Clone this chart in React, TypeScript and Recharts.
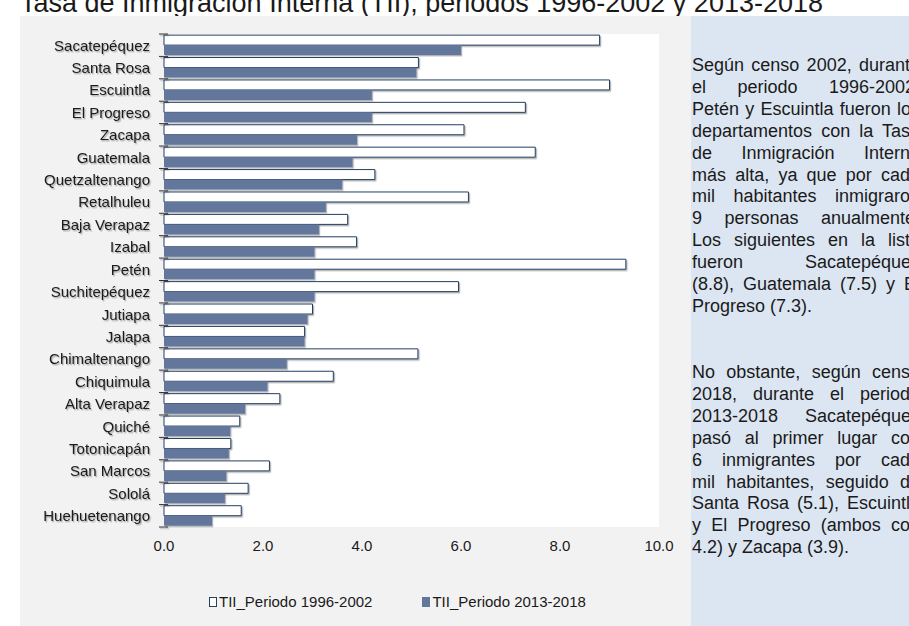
import React from "react";
import { BarChart, Bar, XAxis, YAxis, CartesianGrid } from "recharts";

const categories = [
  "Sacatepéquez",
  "Santa Rosa",
  "Escuintla",
  "El Progreso",
  "Zacapa",
  "Guatemala",
  "Quetzaltenango",
  "Retalhuleu",
  "Baja Verapaz",
  "Izabal",
  "Petén",
  "Suchitepéquez",
  "Jutiapa",
  "Jalapa",
  "Chimaltenango",
  "Chiquimula",
  "Alta Verapaz",
  "Quiché",
  "Totonicapán",
  "San Marcos",
  "Sololá",
  "Huehuetenango",
];

const periodo1996 = [
  8.8, 5.14, 9.0, 7.3, 6.06, 7.5, 4.26, 6.15, 3.71, 3.89, 9.33, 5.95, 3.0, 2.84, 5.13, 3.42, 2.34, 1.53, 1.35,
  2.13, 1.7, 1.56,
];

const periodo2013 = [
  6.0, 5.1, 4.2, 4.2, 3.9, 3.81, 3.6, 3.27, 3.13, 3.04, 3.04, 3.04, 2.9, 2.84, 2.48, 2.09, 1.64, 1.34, 1.31,
  1.26, 1.23, 0.97,
];

const xTicks = [0, 2, 4, 6, 8, 10];
const seriesNames = ["TII_Periodo 1996-2002", "TII_Periodo 2013-2018"];

const title = "Tasa de Inmigración Interna (TII), periodos 1996-2002 y 2013-2018";

const noteParagraphs = [
  [
    "Según censo 2002, durante",
    "el periodo 1996-2002,",
    "Petén y Escuintla fueron los",
    "departamentos con la Tasa",
    "de Inmigración Interna",
    "más alta, ya que por cada",
    "mil habitantes inmigraron",
    "9 personas anualmente.",
    "Los siguientes en la lista",
    "fueron Sacatepéquez",
    "(8.8), Guatemala (7.5) y El",
    "Progreso (7.3).",
  ],
  [
    "No obstante, según censo",
    "2018, durante el periodo",
    "2013-2018 Sacatepéquez",
    "pasó al primer lugar con",
    "6 inmigrantes por cada",
    "mil habitantes, seguido de",
    "Santa Rosa (5.1), Escuintla",
    "y El Progreso (ambos con",
    "4.2) y Zacapa (3.9).",
  ],
];

const FONT = "'Liberation Sans', Arial, sans-serif";
const TEXT = "#1a1a1a";
const OUTLINE = "#243f60";
const FILL_2013 = "#63769c";
const AXIS = "#333";

const CHART_W = 691;
const CHART_H = 626;
const PLOT_TOP = 34;
const PLOT_BOTTOM = 527;
const BAND = (PLOT_BOTTOM - PLOT_TOP) / categories.length;

const data = categories.map((name, i) => ({
  name,
  p1996: periodo1996[i],
  p2013: periodo2013[i],
}));

// category label plus the small marks between categories on the axis
function CategoryTick(props: any) {
  const { x, y, payload } = props;
  const axisX = x + 14;
  const last = payload.value === categories[categories.length - 1];
  return (
    <g filter="url(#softShadow)">
      <line x1={axisX - 5} x2={axisX + 4} y1={y - BAND / 2} y2={y - BAND / 2} stroke={AXIS} />
      {last && <line x1={axisX - 5} x2={axisX + 4} y1={y + BAND / 2} y2={y + BAND / 2} stroke={AXIS} />}
      <text x={x} y={y} dy="0.36em" textAnchor="end" fontSize={15} fill={TEXT}>
        {payload.value}
      </text>
    </g>
  );
}

function NoteLines({ lines, top }: { lines: string[]; top: number }) {
  return (
    <div style={{ position: "absolute", left: 692, top, width: 228, fontSize: 18, lineHeight: "21.9px", color: TEXT }}>
      {lines.map((line, i) => (
        <div
          key={i}
          style={{
            textAlign: "justify",
            textAlignLast: i === lines.length - 1 ? "left" : "justify",
            whiteSpace: "nowrap",
          }}
        >
          {line}
        </div>
      ))}
    </div>
  );
}

export default function App() {
  return (
    <div
      style={{
        position: "absolute",
        left: 0,
        top: 0,
        width: 909,
        height: 626,
        overflow: "hidden",
        background: "#fff",
        fontFamily: FONT,
      }}
    >
      <svg width={0} height={0} style={{ position: "absolute" }}>
        <defs>
          <filter id="softShadow" x="-5%" y="-20%" width="115%" height="160%">
            <feDropShadow dx={1.2} dy={1.4} stdDeviation={0.7} floodColor="#000" floodOpacity={0.3} />
          </filter>
        </defs>
      </svg>

      <div
        style={{
          position: "absolute",
          left: 20,
          top: -10,
          fontSize: 27,
          lineHeight: 1,
          color: TEXT,
          whiteSpace: "nowrap",
        }}
      >
        {title}
      </div>

      <div style={{ position: "absolute", left: 20, top: 16, width: 671, height: 610, background: "#f2f2f2" }} />
      <div style={{ position: "absolute", left: 691, top: 16, width: 218, height: 610, background: "#dce6f2" }} />

      <div style={{ position: "absolute", left: 0, top: 0 }}>
        <BarChart
          width={CHART_W}
          height={CHART_H}
          data={data}
          layout="vertical"
          margin={{ top: PLOT_TOP, right: 32, bottom: 69, left: 0 }}
          barCategoryGap="5%"
          barGap={0}
        >
          <CartesianGrid fill="#fff" stroke="none" horizontal={false} vertical={false} />
          <XAxis
            type="number"
            domain={[0, 10]}
            ticks={xTicks}
            tickFormatter={(v: number) => v.toFixed(1)}
            axisLine={false}
            tickLine={false}
            tickSize={0}
            tickMargin={13}
            height={30}
            tick={{ fontSize: 15, fill: TEXT }}
          />
          <YAxis
            type="category"
            dataKey="name"
            width={164}
            interval={0}
            tickSize={6}
            tickMargin={8}
            tickLine={false}
            axisLine={{ stroke: AXIS, filter: "url(#softShadow)" }}
            tick={<CategoryTick />}
          />
          <Bar
            dataKey="p1996"
            name={seriesNames[0]}
            fill="#fff"
            stroke={OUTLINE}
            strokeWidth={1}
            style={{ filter: "url(#softShadow)" }}
            isAnimationActive={false}
          />
          <Bar
            dataKey="p2013"
            name={seriesNames[1]}
            fill={FILL_2013}
            style={{ filter: "url(#softShadow)" }}
            isAnimationActive={false}
          />
        </BarChart>
      </div>

      <div
        style={{
          position: "absolute",
          left: 209,
          top: 593,
          display: "flex",
          alignItems: "center",
          fontSize: 15,
          color: TEXT,
          whiteSpace: "nowrap",
        }}
      >
        <span style={{ width: 6, height: 8, border: `1px solid ${OUTLINE}`, background: "#fff", marginRight: 2 }} />
        <span>{seriesNames[0]}</span>
        <span style={{ width: 8, height: 10, background: FILL_2013, marginLeft: 50, marginRight: 2 }} />
        <span>{seriesNames[1]}</span>
      </div>

      <NoteLines lines={noteParagraphs[0]} top={55} />
      <NoteLines lines={noteParagraphs[1]} top={362} />
    </div>
  );
}
